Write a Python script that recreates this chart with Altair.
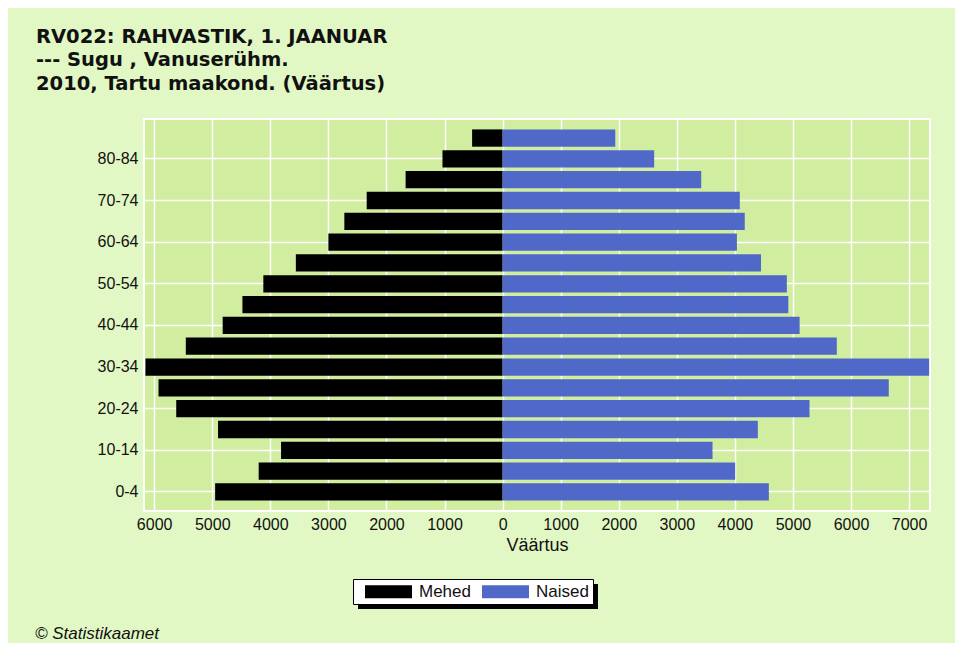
import altair as alt
import pandas as pd

# ---- data ----
age_groups = ["0-4", "5-9", "10-14", "15-19", "20-24", "25-29", "30-34", "35-39",
              "40-44", "45-49", "50-54", "55-59", "60-64", "65-69", "70-74",
              "75-79", "80-84", "85+"]
men = [4950, 4200, 3815, 4900, 5620, 5925, 6150, 5455, 4820, 4480, 4120, 3560,
       3000, 2725, 2340, 1670, 1035, 525]
women = [4585, 4005, 3615, 4395, 5285, 6650, 7345, 5755, 5115, 4920, 4895, 4450,
         4035, 4170, 4085, 3420, 2610, 1940]
sexes = ["Mehed", "Naised"]
sex_colors = ["#000000", "#5068C8"]
x_ticks = [-6000, -5000, -4000, -3000, -2000, -1000, 0, 1000, 2000, 3000,
           4000, 5000, 6000, 7000]
y_labels = ["0-4", "10-14", "20-24", "30-34", "40-44", "50-54", "60-64",
            "70-74", "80-84"]
title_lines = ["RV022: RAHVASTIK, 1. JAANUAR", "--- Sugu , Vanuserühm.",
               "2010, Tartu maakond. (Väärtus)"]
footer = "© Statistikaamet"

rows = []
for a, m, w in zip(age_groups, men, women):
    rows.append({"age": a, "sex": "Mehed", "value": -m})
    rows.append({"age": a, "sex": "Naised", "value": w})
df = pd.DataFrame(rows)

FONT = "Liberation Sans"

bars = alt.Chart(df).mark_bar(opacity=1).encode(
    x=alt.X("value:Q",
            scale=alt.Scale(domain=[-6175, 7360], nice=False, zero=False),
            axis=alt.Axis(values=x_ticks, labelExpr="format(abs(datum.value), 'd')",
                          title="Väärtus", ticks=False, domain=False,
                          grid=True, gridColor="white", gridWidth=1.5, gridOpacity=1,
                          labelFont=FONT, labelFontSize=16, labelColor="#111111",
                          labelPadding=5, titleFont=FONT, titleFontSize=18,
                          titleFontWeight="normal", titleColor="#111111",
                          titlePadding=4)),
    y=alt.Y("age:N", sort=list(reversed(age_groups)),
            scale=alt.Scale(paddingInner=0.17, paddingOuter=0.5),
            axis=alt.Axis(values=y_labels, title=None, ticks=False, domain=False,
                          grid=True, gridColor="white", gridWidth=1.5, gridOpacity=1,
                          labelFont=FONT, labelFontSize=16, labelColor="#111111",
                          labelPadding=6)),
    color=alt.Color("sex:N",
                    scale=alt.Scale(domain=sexes, range=sex_colors),
                    legend=alt.Legend(orient="none", legendX=209, legendY=460,
                                      direction="horizontal", title=None,
                                      fillColor="white", strokeColor="black",
                                      padding=4,
                                      symbolType="M-1,-1H6.23V1H-1Z",
                                      symbolSize=169, symbolOffset=6,
                                      symbolStrokeWidth=0, symbolOpacity=1,
                                      labelOffset=39, columnPadding=3,
                                      labelFont=FONT, labelFontSize=17,
                                      labelColor="#111111")),
)

shadow = alt.Chart(alt.Data(values=[{"k": 1}])).mark_rect(color="black").encode(
    x=alt.value(214), x2=alt.value(454), y=alt.value(465), y2=alt.value(490)
)

foot = alt.Chart(alt.Data(values=[{"k": 1}])).mark_text(
    align="left", baseline="alphabetic", font=FONT, fontSize=17,
    fontStyle="italic", color="#111111"
).encode(x=alt.value(-109), y=alt.value(520), text=alt.value(footer))

chart = alt.layer(shadow, bars, foot).properties(
    width=786, height=392,
    padding={"left": 136, "top": 111, "right": 25, "bottom": 132},
    autosize=alt.AutoSizeParams(type="none"),
    background="#E2F8C4",
    title=alt.TitleParams(text=title_lines, anchor="start", frame="group",
                          dx=-108, offset=25, font="DejaVu Sans",
                          fontSize=19.5, fontWeight="bold", color="#111111",
                          lineHeight=23.5),
).configure_view(stroke="white", strokeWidth=2, fill="#D0EDA0")

chart.save("out.html", embed_options={"renderer": "svg", "actions": False})
